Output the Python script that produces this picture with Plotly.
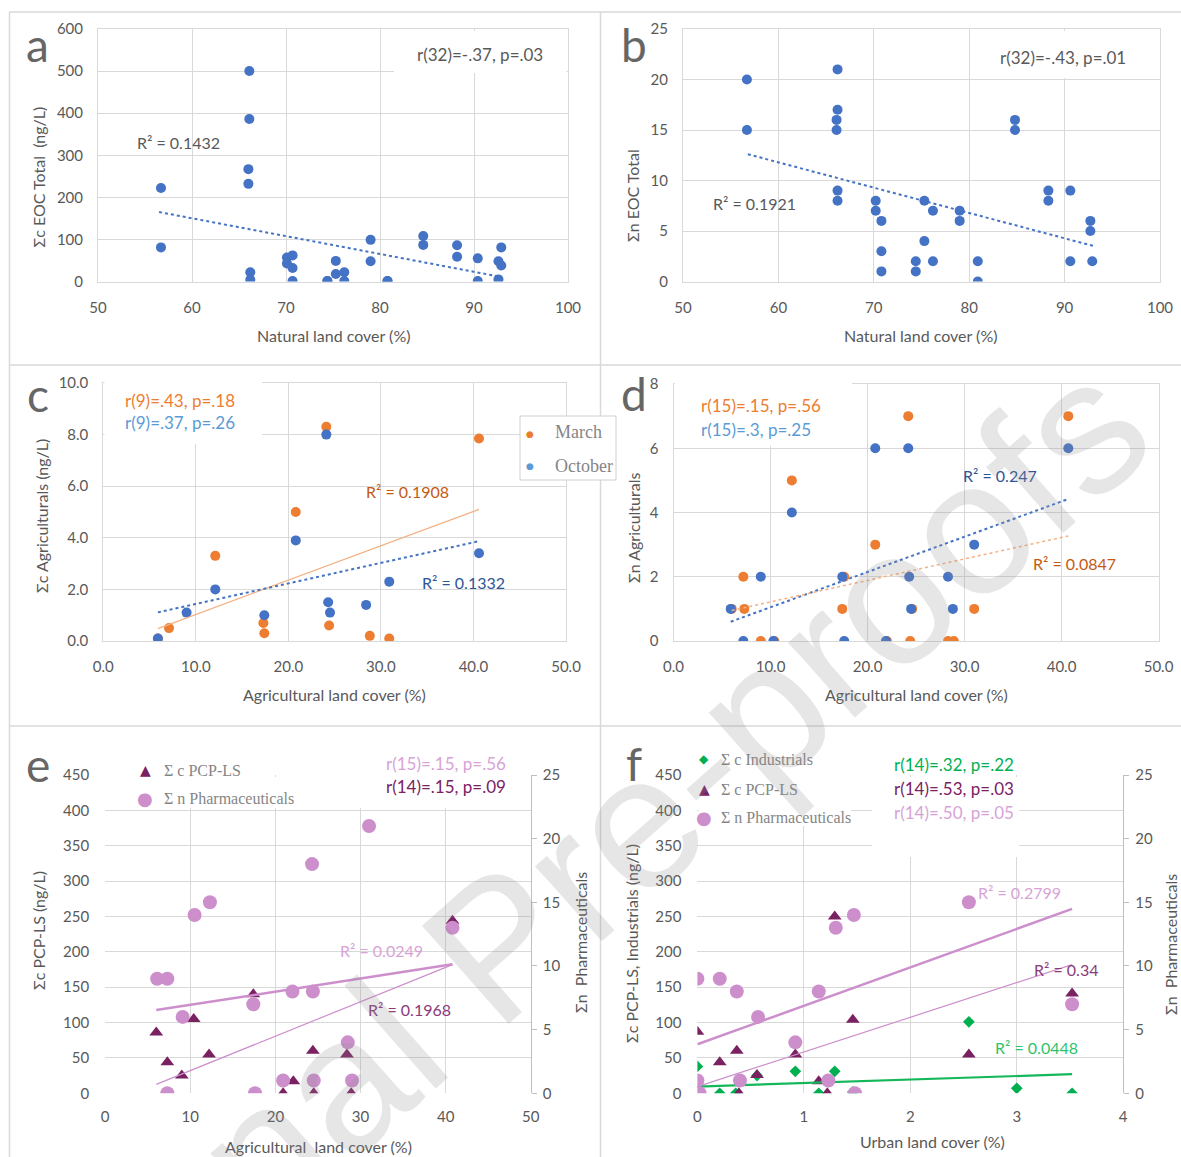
import plotly.graph_objects as go

W, H = 1181, 1157
def fx(px): return px / W
def fy(py): return 1 - py / H

# ---------------- DATA ----------------
# panel a: natural land cover vs Σc EOC total (ng/L)
a_x = [56.7, 56.7, 66.1, 66.1, 66.0, 66.0, 66.2, 66.2, 70.1, 70.1, 70.7, 70.7, 70.7, 74.4, 74.4,
       75.3, 75.3, 76.2, 76.2, 79.0, 79.0, 80.8, 80.8, 84.6, 84.6, 88.2, 88.2, 90.4, 90.4,
       92.6, 92.6, 92.9, 92.9]
a_y = [222, 81, 500, 386, 267, 232, 22, 4, 57, 43, 62, 32, 1, 1, 1,
       49, 18, 22, 1, 99, 48, 1, 1, 108, 87, 86, 59, 55, 1,
       48, 5, 38, 81]
a_trend_x = [56.5, 92.6]
a_trend_y = [165, 12]

# panel b: natural land cover vs Σn EOC total
b_x = [56.7, 56.7, 66.2, 66.2, 66.1, 66.1, 66.2, 66.2, 70.2, 70.2, 70.8, 70.8, 70.8, 74.4, 74.4,
       75.3, 75.3, 76.2, 76.2, 79.0, 79.0, 80.9, 80.9, 84.8, 84.8, 88.3, 88.3, 90.6, 90.6,
       92.7, 92.7, 92.9]
b_y = [20, 15, 21, 17, 16, 15, 9, 8, 8, 7, 6, 3, 1, 2, 1,
       8, 4, 7, 2, 7, 6, 2, 0, 16, 15, 9, 8, 9, 2,
       6, 5, 2]
b_trend_x = [56.8, 93.1]
b_trend_y = [12.6, 3.5]

# panel c: agricultural land cover vs Σc agriculturals (ng/L)
c_x_mar = [5.9, 7.1, 12.1, 17.3, 17.4, 20.8, 24.1, 24.4, 28.8, 30.9, 40.6]
c_y_mar = [0.1, 0.5, 3.3, 0.7, 0.3, 5.0, 8.3, 0.6, 0.2, 0.1, 7.85]
c_x_oct = [5.9, 9.0, 12.1, 17.4, 20.8, 24.1, 24.3, 24.5, 28.4, 30.9, 40.6]
c_y_oct = [0.1, 1.1, 2.0, 1.0, 3.9, 8.0, 1.5, 1.1, 1.4, 2.3, 3.4]
c_trend_mar_x = [5.9, 40.6]
c_trend_mar_y = [0.48, 5.10]
c_trend_oct_x = [5.9, 40.6]
c_trend_oct_y = [1.11, 3.87]

# panel d: agricultural land cover vs Σn agriculturals
d_x_mar = [6.0, 7.2, 7.3, 9.0, 10.4, 12.2, 17.4, 17.6, 20.8, 22.0, 24.2, 24.4, 24.6, 28.3, 28.9, 31.0, 40.7]
d_y_mar = [1, 2, 1, 0, 0, 5, 1, 2, 3, 0, 7, 0, 1, 0, 0, 1, 7]
d_x_oct = [5.9, 7.2, 9.0, 10.3, 12.2, 17.4, 17.6, 20.8, 21.9, 24.2, 24.3, 24.5, 28.3, 28.8, 31.0, 40.7]
d_y_oct = [1, 0, 2, 0, 4, 2, 0, 6, 0, 6, 2, 1, 2, 1, 3, 6]
d_trend_oct_x = [5.9, 40.7]
d_trend_oct_y = [0.60, 4.42]
d_trend_mar_x = [6.0, 40.7]
d_trend_mar_y = [0.95, 3.27]

# panel e: agricultural land cover vs Σc PCP-LS (left) and Σn pharmaceuticals (right)
e_x_pcp = [6.0, 7.3, 9.0, 10.4, 12.2, 17.4, 20.9, 22.1, 24.4, 24.5, 28.4, 28.9, 40.8]
e_y_pcp = [86, 44, 25, 105, 55, 140, 0, 17, 60, 0, 55, 0, 244]
e_x_ph = [6.1, 7.3, 7.3, 9.1, 10.5, 12.3, 17.4, 17.6, 20.9, 22.0, 24.3, 24.4, 24.5, 28.5, 29.0, 31.0, 40.8]
e_y_ph = [9, 9, 0, 6, 14, 15, 7, 0, 1, 8, 18, 8, 1, 4, 1, 21, 13]
e_trend_ph_x = [6.0, 40.8]
e_trend_ph_y = [6.54, 10.13]
e_trend_pcp_x = [6.0, 40.8]
e_trend_pcp_y = [12.7, 182]

# panel f: urban land cover vs Σc industrials, Σc PCP-LS (left) and Σn pharmaceuticals (right)
f_x_ind = [0.0, 0.21, 0.36, 0.56, 0.92, 1.14, 1.29, 1.46, 2.55, 3.0, 3.52]
f_y_ind = [38, 0, 0, 25, 31, 0, 31, 2, 101, 7, 0]
f_x_pcp = [0.0, 0.21, 0.37, 0.39, 0.56, 0.92, 1.14, 1.22, 1.29, 1.46, 2.55, 3.52]
f_y_pcp = [87, 44, 60, 0, 26, 55, 17, 0, 250, 104, 55, 141]
f_x_ph = [0.0, 0.0, 0.02, 0.21, 0.37, 0.40, 0.57, 0.92, 1.14, 1.23, 1.30, 1.47, 1.48, 2.55, 3.52]
f_y_ph = [9, 1, 0, 9, 8, 1, 6, 4, 8, 1, 13, 14, 0, 15, 7]
f_trend_ph_x = [0.0, 3.52]
f_trend_ph_y = [3.85, 14.48]
f_trend_pcp_x = [0.0, 3.52]
f_trend_pcp_y = [9.4, 182]
f_trend_ind_x = [0.0, 3.52]
f_trend_ind_y = [9.5, 27]

# ---------------- STYLE ----------------
BLUE = '#4472C4'
ORANGE = '#ED7D31'
LBLUE = '#5B9BD5'
DBLUE = '#2F5597'
DORANGE = '#C55A11'
PURPLE = '#7A2162'
PINK = '#CC8FCC'
LPINK = '#D7A3D7'
GREEN = '#00B050'
GRID = '#d9d9d9'
TXT = '#595959'
FONT = 'Lato'
SERIF = 'Liberation Serif'

fig = go.Figure()

def sc(x, y, xa, ya, color, size, symbol='circle'):
    fig.add_trace(go.Scatter(x=x, y=y, xaxis=xa, yaxis=ya, mode='markers',
                             marker=dict(color=color, size=size, symbol=symbol, line=dict(width=0)),
                             showlegend=False, hoverinfo='skip'))

def tl(x, y, xa, ya, color, width, dash='solid'):
    fig.add_trace(go.Scatter(x=x, y=y, xaxis=xa, yaxis=ya, mode='lines',
                             line=dict(color=color, width=width, dash=dash),
                             showlegend=False, hoverinfo='skip'))

# a
sc(a_x, a_y, 'x', 'y', BLUE, 10)
tl(a_trend_x, a_trend_y, 'x', 'y', BLUE, 2, 'dot')
# b
sc(b_x, b_y, 'x2', 'y2', BLUE, 10)
tl(b_trend_x, b_trend_y, 'x2', 'y2', BLUE, 2, 'dot')
# c
sc(c_x_mar, c_y_mar, 'x3', 'y3', ORANGE, 10)
sc(c_x_oct, c_y_oct, 'x3', 'y3', BLUE, 10)
tl(c_trend_mar_x, c_trend_mar_y, 'x3', 'y3', '#F4B183', 1.2)
tl(c_trend_oct_x, c_trend_oct_y, 'x3', 'y3', BLUE, 2, 'dot')
# d
sc(d_x_mar, d_y_mar, 'x4', 'y4', ORANGE, 10)
sc(d_x_oct, d_y_oct, 'x4', 'y4', BLUE, 10)
tl(d_trend_oct_x, d_trend_oct_y, 'x4', 'y4', BLUE, 2, 'dot')
tl(d_trend_mar_x, d_trend_mar_y, 'x4', 'y4', '#F4B183', 1.5, 'dot')
# e
sc(e_x_pcp, e_y_pcp, 'x5', 'y5', PURPLE, 12, 'triangle-up')
sc(e_x_ph, e_y_ph, 'x5', 'y6', PINK, 14)
tl(e_trend_ph_x, e_trend_ph_y, 'x5', 'y6', PINK, 2.5)
tl(e_trend_pcp_x, e_trend_pcp_y, 'x5', 'y5', PINK, 1.2)
# f
sc(f_x_ind, f_y_ind, 'x6', 'y7', GREEN, 9, 'diamond')
sc(f_x_pcp, f_y_pcp, 'x6', 'y7', PURPLE, 12, 'triangle-up')
sc(f_x_ph, f_y_ph, 'x6', 'y8', PINK, 14)
tl(f_trend_ph_x, f_trend_ph_y, 'x6', 'y8', PINK, 2.5)
tl(f_trend_pcp_x, f_trend_pcp_y, 'x6', 'y7', PINK, 1.2)
tl(f_trend_ind_x, f_trend_ind_y, 'x6', 'y7', '#14B85A', 2.2)

tickfont = dict(family=FONT, size=15, color=TXT)

def xax(px0, px1, rng, dtick, anchor, fmt=None, box=True):
    d = dict(domain=[fx(px0), fx(px1)], range=rng, dtick=dtick, anchor=anchor,
             showgrid=True, gridcolor=GRID, gridwidth=1, zeroline=False,
             showline=box, mirror=box, linecolor=GRID, linewidth=1, ticks='',
             tickfont=tickfont, ticklabelstandoff=12, fixedrange=True, automargin=False)
    if fmt:
        d['tickformat'] = fmt
    return d

def yax(py0, py1, rng, dtick, anchor, fmt=None, box=True):
    d = dict(domain=[fy(py0), fy(py1)], range=rng, dtick=dtick, anchor=anchor,
             showgrid=True, gridcolor=GRID, gridwidth=1, zeroline=False,
             showline=box, mirror=box, linecolor=GRID, linewidth=1, ticks='',
             tickfont=tickfont, ticklabelstandoff=11, fixedrange=True, automargin=False)
    if fmt:
        d['tickformat'] = fmt
    return d

def yright(rng, dtick, anchor, overlay):
    return dict(range=rng, dtick=dtick, anchor=anchor, overlaying=overlay, side='right',
                showgrid=False, zeroline=False, showline=True, linecolor='#bfbfbf', linewidth=1,
                ticks='outside', ticklen=5, tickcolor='#bfbfbf', tickfont=tickfont,
                ticklabelstandoff=3, fixedrange=True, automargin=False)

layout = dict(
    width=W, height=H, autosize=False, margin=dict(l=0, r=0, t=0, b=0, pad=0),
    paper_bgcolor='white', plot_bgcolor='white', showlegend=False,
    xaxis=xax(98, 568, [50, 100], 10, 'y'),
    yaxis=yax(281.5, 29, [0, 600], 100, 'x'),
    xaxis2=xax(683, 1160, [50, 100], 10, 'y2'),
    yaxis2=yax(281.5, 29, [0, 25], 5, 'x2'),
    xaxis3=xax(103.3, 566, [0, 50], 10, 'y3', '.1f'),
    yaxis3=yax(641, 383, [0, 10], 2, 'x3', '.1f'),
    xaxis4=xax(673.5, 1158.5, [0, 50], 10, 'y4', '.1f'),
    yaxis4=yax(641, 384, [0, 8], 2, 'x4'),
    xaxis5=xax(105.2, 530.8, [0, 50], 10, 'y5', box=False),
    yaxis5=yax(1093.3, 775, [0, 450], 50, 'x5', box=False),
    yaxis6=yright([0, 25], 5, 'x5', 'y5'),
    xaxis6=xax(697.4, 1123.2, [0, 4], 1, 'y7', box=False),
    yaxis7=yax(1093.3, 775, [0, 450], 50, 'x6', box=False),
    yaxis8=yright([0, 25], 5, 'x6', 'y7'),
)
layout['yaxis5']['ticklabelstandoff'] = 15
layout['yaxis7']['ticklabelstandoff'] = 15
layout['xaxis5']['ticklabelstandoff'] = 13
layout['xaxis6']['ticklabelstandoff'] = 13
fig.update_layout(**layout)

# ---------------- SHAPES ----------------
shapes = []
def box(x0, y0, x1, y1, line=None):
    shapes.append(dict(type='rect', xref='paper', yref='paper', x0=fx(x0), x1=fx(x1),
                       y0=fy(y1), y1=fy(y0), fillcolor='white',
                       line=dict(width=1 if line else 0, color=line or 'white'), layer='above'))

def hline(y, x0, x1):
    shapes.append(dict(type='line', xref='paper', yref='paper', x0=fx(x0), x1=fx(x1),
                       y0=fy(y), y1=fy(y), line=dict(color=GRID, width=1.5), layer='above'))

def vline(x, y0, y1):
    shapes.append(dict(type='line', xref='paper', yref='paper', x0=fx(x), x1=fx(x),
                       y0=fy(y0), y1=fy(y1), line=dict(color=GRID, width=1.5), layer='above'))

# panel frames
hline(12, 9, W)
hline(365, 9, W)
hline(726, 9, W)
vline(9.5, 12, H)
vline(600.5, 12, H)

# white text boxes covering gridlines
box(394, 31, 566.5, 73)
box(975, 31, 1158.5, 78)
box(104.5, 382, 262, 444)
box(674.5, 383, 852, 446)
box(106, 777, 355, 808)
box(360, 750, 530, 808)
box(698.5, 748, 851, 826)
box(872, 777, 1019, 857)
# legend box of panel c
box(520, 416, 616, 480, line='#d0d0d0')

fig.update_layout(shapes=shapes)

# ---------------- ANNOTATIONS ----------------
ann = []
def A(text, px, py, color=TXT, size=16, xanchor='center', yanchor='middle', angle=0, family=FONT):
    ann.append(dict(text=text, x=fx(px), y=fy(py), xref='paper', yref='paper',
                    xanchor=xanchor, yanchor=yanchor, textangle=angle, showarrow=False,
                    font=dict(family=family, size=size, color=color)))

# panel letters
LET = '#666666'
A('a', 38, 44, LET, 46)
A('b', 634, 44, LET, 46)
A('c', 38, 394, LET, 46)
A('d', 634, 393, LET, 46)
A('e', 38, 764, LET, 46)
A('f', 634, 763, LET, 46)

# axis titles
A('Natural land cover (%)', 334, 335)
A('Σc EOC Total  (ng/L)', 37.5, 177, angle=-90)
A('Natural land cover (%)', 921, 335)
A('Σn EOC Total', 633, 196, angle=-90)
A('Agricultural land cover (%)', 334, 694)
A('Σc Agriculturals (ng/L)', 42, 516, angle=-90)
A('Agricultural land cover (%)', 916, 694)
A('Σn Agriculturals', 633, 528, angle=-90)
A('Agricultural  land cover (%)', 318, 1146)
A('Σc PCP-LS (ng/L)', 38, 930, angle=-90)
A('Σn  Pharmaceuticals', 580, 943, angle=-90)
A('Urban land cover (%)', 932, 1141)
A('Σc PCP-LS, Industrials (ng/L)', 631, 944, angle=-90)
A('Σn  Pharmaceuticals', 1170, 945, angle=-90)

# statistics
A('r(32)=-.37, p=.03', 480, 54, TXT, 17)
A('R² = 0.1432', 179, 143, TXT, 16)
A('r(32)=-.43, p=.01', 1063, 57, TXT, 17)
A('R² = 0.1921', 755, 203, TXT, 16)

A('r(9)=.43, p=.18', 123, 400, ORANGE, 17, xanchor='left')
A('r(9)=.37, p=.26', 123, 423, LBLUE, 17, xanchor='left')
A('R² = 0.1908', 407.5, 491, DORANGE, 16)
A('R² = 0.1332', 464, 582, DBLUE, 16)

A('r(15)=.15, p=.56', 699, 405, ORANGE, 17, xanchor='left')
A('r(15)=.3, p=.25', 699, 429, LBLUE, 17, xanchor='left')
A('R² = 0.247', 1000, 476, DBLUE, 16)
A('R² = 0.0847', 1074, 563, DORANGE, 16)

A('r(15)=.15, p=.56', 508, 763, LPINK, 17, xanchor='right')
A('r(14)=.15, p=.09', 508, 787, PURPLE, 17, xanchor='right')
A('R² = 0.0249', 381, 950, LPINK, 16)
A('R² = 0.1968', 409, 1009, '#8B3A7A', 16)

A('r(14)=.32, p=.22', 954, 764, GREEN, 17)
A('r(14)=.53, p=.03', 954, 788, PURPLE, 17)
A('r(14)=.50, p=.05', 954, 812, LPINK, 17)
A('R² = 0.2799', 1019.5, 892, LPINK, 16)
A('R² = 0.34', 1066, 969, '#8B3A7A', 16)
A('R² = 0.0448', 1036, 1047, '#2EC46A', 16)

# legends (symbols + labels)
LEG = '#858585'
A('●', 530, 434, ORANGE, 9, family='DejaVu Sans')
A('March', 553, 432, LEG, 18, xanchor='left', family=SERIF)
A('●', 530, 466, LBLUE, 9, family='DejaVu Sans')
A('October', 553, 466, LEG, 18, xanchor='left', family=SERIF)

A('▲', 145, 770, PURPLE, 14, family='DejaVu Sans')
A('Σ c PCP-LS', 162, 770, LEG, 16, xanchor='left', family=SERIF)
A('●', 145, 798, PINK, 18, family='DejaVu Sans')
A('Σ n Pharmaceuticals', 162, 798, LEG, 16, xanchor='left', family=SERIF)

A('◆', 704, 759, GREEN, 12, family='DejaVu Sans')
A('Σ c Industrials', 719, 759, LEG, 16, xanchor='left', family=SERIF)
A('▲', 704, 789, PURPLE, 14, family='DejaVu Sans')
A('Σ c PCP-LS', 719, 789, LEG, 16, xanchor='left', family=SERIF)
A('●', 704, 817, PINK, 18, family='DejaVu Sans')
A('Σ n Pharmaceuticals', 719, 817, LEG, 16, xanchor='left', family=SERIF)

# watermark
ann.append(dict(text='Journal Pre-proofs', x=fx(532), y=fy(915), xref='paper', yref='paper',
                xanchor='center', yanchor='middle', textangle=-41.5, showarrow=False,
                font=dict(family='Liberation Sans', size=190, color='rgba(140,140,140,0.22)')))

fig.update_layout(annotations=ann)

fig.write_html('out.html',
               config={'displayModeBar': False, 'staticPlot': True},
               post_script="document.body.style.margin='0px';document.body.style.padding='0px';"
                           "document.body.style.overflow='hidden';")
